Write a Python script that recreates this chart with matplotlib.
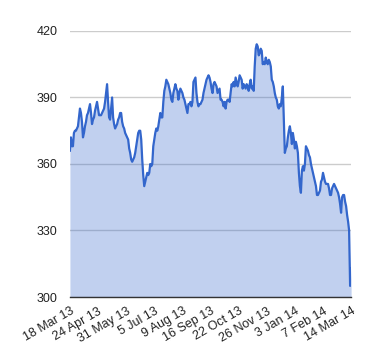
import matplotlib
matplotlib.use("Agg")
import matplotlib.pyplot as plt
import numpy as np

plt.rcParams['font.family'] = ['Liberation Sans', 'DejaVu Sans']

values = [
    366, 372, 368, 368, 374, 375, 375, 376, 377, 381,
    385, 383, 379, 372, 374, 377, 379, 382, 383, 385,
    387, 383, 378, 380, 381, 384, 386, 388, 385, 382,
    382, 382, 383, 384, 385, 388, 392, 396, 388, 381,
    380, 385, 390, 381, 378, 376, 377, 378, 380, 381,
    383, 383, 379, 377, 376, 374, 373, 372, 371, 367,
    365, 362, 361, 362, 363, 365, 368, 371, 374, 375,
    375, 371, 362, 355, 350, 352, 354, 356, 355, 356,
    360, 359, 360, 368, 371, 374, 376, 375, 377, 380,
    383, 381, 381, 388, 393, 395, 398, 397, 396, 394,
    392, 389, 388, 392, 394, 396, 394, 393, 389, 392,
    394, 393, 392, 390, 389, 387, 385, 383, 387, 387,
    388, 386, 388, 397, 398, 399, 392, 388, 386, 387,
    387, 388, 389, 392, 394, 396, 398, 399, 400, 399,
    397, 394, 392, 396, 397, 396, 395, 392, 393, 394,
    389, 389, 388, 386, 388, 385, 388, 389, 389, 388,
    392, 396, 395, 397, 395, 399, 397, 395, 397, 400,
    399, 398, 394, 396, 395, 394, 396, 395, 393, 396,
    398, 394, 395, 393, 404, 412, 414, 413, 409, 410,
    412, 411, 405, 406, 405, 408, 406, 405, 407, 406,
    404, 398, 397, 395, 392, 390, 389, 386, 385, 387,
    386, 390, 395, 380, 365, 367, 368, 372, 375, 377,
    374, 369, 374, 371, 367, 370, 368, 365, 356, 350,
    347, 357, 359, 357, 360, 368, 367, 366, 364, 363,
    360, 358, 356, 354, 352, 350, 346, 346, 347, 348,
    352, 353, 356, 354, 352, 351, 351, 351, 349, 346,
    346, 349, 350, 351, 350, 349, 348, 347, 345, 342,
    338, 345, 346, 346, 343, 341, 337, 334, 330, 305,
    313,
]

tick_labels = ["18 Mar 13", "24 Apr 13", "31 May 13", "5 Jul 13", "9 Aug 13",
               "16 Sep 13", "22 Oct 13", "26 Nov 13", "3 Jan 14", "7 Feb 14",
               "14 Mar 14"]
y_ticks = [300, 330, 360, 390, 420]

line_color = "#3366cc"

fig = plt.figure(figsize=(3.8, 3.6), dpi=100)
ax = fig.add_axes([0.184, 0.175, 0.74, 0.739])

x = np.arange(len(values))
ax.fill_between(x, values, 300, color=line_color, alpha=0.3, linewidth=0)
ax.plot(x, values, color=line_color, linewidth=1.6, solid_joinstyle='round')

ax.set_xlim(0, len(values) - 1)
ax.set_ylim(300, 420)
ax.set_yticks(y_ticks)
ax.set_yticklabels([str(v) for v in y_ticks])
tick_pos = np.linspace(0, len(values) - 1, len(tick_labels))
ax.set_xticks(tick_pos)
ax.set_xticklabels(tick_labels, rotation=30, ha='right', rotation_mode='anchor')

ax.grid(axis='y', color='#cccccc', linewidth=1)
ax.set_axisbelow(True)
for s in ['left', 'right', 'top']:
    ax.spines[s].set_visible(False)
ax.spines['bottom'].set_color('#333333')
ax.spines['bottom'].set_linewidth(1)
ax.spines['bottom'].set_zorder(5)
ax.tick_params(axis='both', length=0, labelsize=9, colors='#222222')
ax.tick_params(axis='y', pad=9)
ax.tick_params(axis='x', pad=6)

fig.savefig("out.png", dpi=100, facecolor='white')
